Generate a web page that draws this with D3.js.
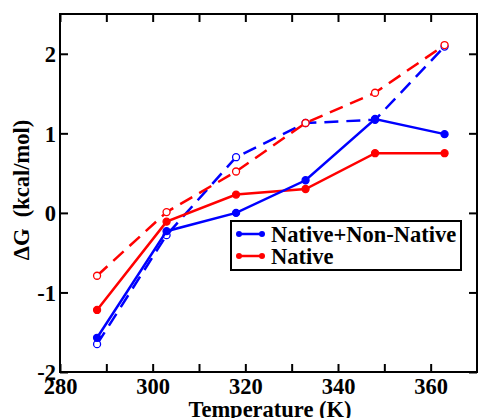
<!DOCTYPE html>
<html><head><meta charset="utf-8">
<script src="https://cdn.jsdelivr.net/npm/d3@7"></script>
<style>body{margin:0;background:#fff}svg{display:block}</style>
</head><body>
<svg id="c" width="478" height="418"></svg>
<script>
const temps = [288, 303, 318, 333, 348, 363];
const nativeNonNative = [-1.57, -0.23, 0.0, 0.41, 1.18, 0.99];
const nativeNonNativeDashed = [-1.65, -0.28, 0.70, 1.13, 1.17, 2.09];
const nativeOnly = [-1.22, -0.11, 0.23, 0.30, 0.75, 0.75];
const nativeOnlyDashed = [-0.79, 0.01, 0.52, 1.13, 1.51, 2.11];
const xTicks = [280, 300, 320, 340, 360];
const xMinorTicks = [290, 310, 330, 350, 370];
const yTicks = [-2, -1, 0, 1, 2];
const legendLabels = ["Native+Non-Native", "Native"];

const svg = d3.select("#c");
const L = 60, R = 477, T = 14, B = 372;
const x = d3.scaleLinear().domain([280, 370]).range([L, R]);
const y = d3.scaleLinear().domain([-2, 2.5]).range([B, T]);
const fmt = d => String(d);
const FAM = '"Liberation Serif","Times New Roman",serif';
const FS = 22.5;
function styl(sel, size) {
  return sel.style("font-family", FAM).style("font-weight", "bold")
    .style("font-size", (size || FS) + "px").attr("fill", "#000");
}

const series = [
  {vals: nativeNonNativeDashed, color: "#0000ff", dash: "14,8", open: true},
  {vals: nativeOnlyDashed, color: "#ff0000", dash: "14,8", open: true},
  {vals: nativeOnly, color: "#ff0000", dash: null, open: false},
  {vals: nativeNonNative, color: "#0000ff", dash: null, open: false}
];
const line = d3.line().x(d => x(d[0])).y(d => y(d[1]));
series.forEach(s => {
  const pts = temps.map((t, i) => [t, s.vals[i]]);
  svg.append("path").attr("d", line(pts)).attr("fill", "none")
    .attr("stroke", s.color).attr("stroke-width", 2.5)
    .attr("stroke-dasharray", s.dash);
  svg.selectAll(null).data(pts).enter().append("circle")
    .attr("cx", d => x(d[0])).attr("cy", d => y(d[1])).attr("r", 3.5)
    .attr("fill", s.open ? "#fff" : s.color)
    .attr("stroke", s.color).attr("stroke-width", 1.3);
});

// axes
const tickLen = 8;
const gB = svg.append("g").attr("transform", `translate(0,${B})`)
  .call(d3.axisBottom(x).tickValues(xTicks).tickSize(-tickLen).tickPadding(8).tickFormat(fmt));
const gBm = svg.append("g").attr("transform", `translate(0,${B})`)
  .call(d3.axisBottom(x).tickValues(xMinorTicks).tickSize(-tickLen).tickFormat(""));
const gT = svg.append("g").attr("transform", `translate(0,${T})`)
  .call(d3.axisTop(x).tickValues(xTicks.concat(xMinorTicks)).tickSize(-tickLen).tickFormat(""));
const gL = svg.append("g").attr("transform", `translate(${L},0)`)
  .call(d3.axisLeft(y).tickValues(yTicks).tickSize(-tickLen).tickPadding(4).tickFormat(fmt));
const gR = svg.append("g").attr("transform", `translate(${R},0)`)
  .call(d3.axisRight(y).tickValues(yTicks).tickSize(-tickLen).tickFormat(""));
[gB, gBm, gT, gL, gR].forEach(g => {
  g.attr("font-family", null).attr("font-size", null);
  g.select(".domain").remove();
  g.selectAll(".tick line").attr("stroke", "#000").attr("stroke-width", 2);
  styl(g.selectAll("text"));
});
gB.selectAll("text").attr("y", 0).attr("dy", null).attr("transform", "translate(0,22)");
gL.selectAll("text").attr("dy", "0.35em");
svg.append("rect").attr("x", L).attr("y", T).attr("width", R - L).attr("height", B - T)
  .attr("fill", "none").attr("stroke", "#000").attr("stroke-width", 2);

// axis titles
styl(svg.append("text")).attr("x", 270).attr("y", 417).attr("text-anchor", "middle")
  .text("Temperature (K)");
styl(svg.append("text")).attr("transform", "translate(29,190) rotate(-90)").attr("text-anchor", "middle")
  .style("white-space", "pre").text("\u0394G  (kcal/mol)");

// legend
svg.append("rect").attr("x", 231).attr("y", 221).attr("width", 230).attr("height", 49)
  .attr("fill", "#fff").attr("stroke", "#000").attr("stroke-width", 2);
const legColors = ["#0000ff", "#ff0000"];
legendLabels.forEach((lab, i) => {
  const ly = 234 + i * 22;
  svg.append("line").attr("x1", 239).attr("x2", 262).attr("y1", ly).attr("y2", ly)
    .attr("stroke", legColors[i]).attr("stroke-width", 2.5);
  [239, 262].forEach(cx => svg.append("circle").attr("cx", cx).attr("cy", ly).attr("r", 3)
    .attr("fill", legColors[i]));
  styl(svg.append("text")).attr("x", 271).attr("y", ly).attr("dy", "0.35em").text(lab);
});
</script>
</body></html>
